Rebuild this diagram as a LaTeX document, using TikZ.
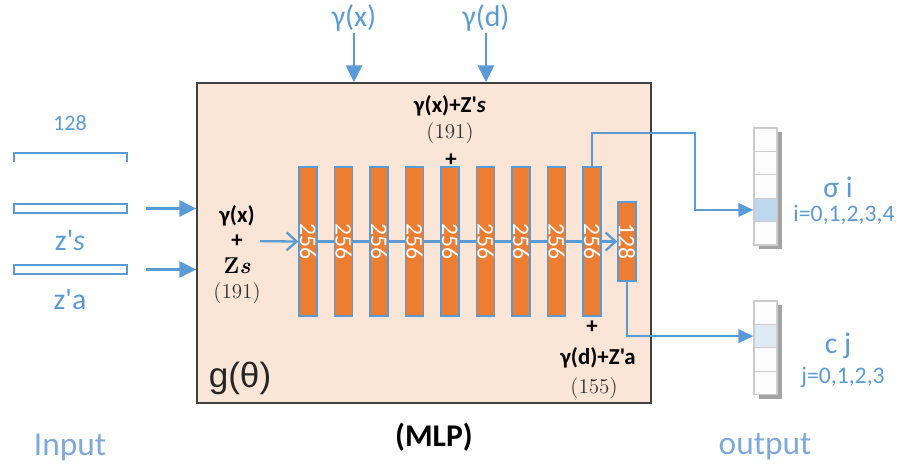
\documentclass[tikz,border=0pt]{standalone}
\usepackage{fontspec}
\newfontfamily\cfont{Carlito}
\newfontfamily\afont{Liberation Sans}
\usetikzlibrary{arrows.meta,positioning,shadows}
\definecolor{lineblue}{HTML}{5B9BD5}
\definecolor{softblue}{HTML}{7FA9DA}
\definecolor{peach}{HTML}{FBE5D6}
\definecolor{barorange}{HTML}{ED7D31}
\definecolor{cellblue}{HTML}{BDD7EE}
\definecolor{celllight}{HTML}{DEEBF7}

\begin{document}
\begin{tikzpicture}[x=0.02cm, y=-0.02cm,
  bar/.style={rectangle, draw=lineblue, line width=0.8pt, fill=barorange, inner sep=0pt,
              minimum width=0.36cm, minimum height=2.98cm, text=white,
              font=\cfont\fontsize{13.5}{13.5}\selectfont},
  inrect/.style={rectangle, draw=lineblue, line width=0.7pt, fill=white, inner sep=0pt,
                 minimum width=2.26cm, minimum height=0.18cm},
  cell/.style={rectangle, draw=black!20, line width=0.7pt, fill=blue!1, inner sep=0pt,
               minimum width=0.46cm, minimum height=0.468cm},
  column/.style={rectangle, fill=white, inner sep=0pt, minimum width=0.46cm,
                 drop shadow={shadow xshift=3pt, shadow yshift=-2pt, fill=black!60, opacity=0.6}},
  bluetext/.style={text=lineblue, font=\cfont\fontsize{17}{19}\selectfont, inner sep=1pt},
  smallblue/.style={text=lineblue, font=\cfont\fontsize{13.5}{15}\selectfont, inner sep=1pt},
  boldlabel/.style={font=\cfont\bfseries\fontsize{13}{15}\selectfont, inner sep=1pt},
  numlabel/.style={font=\fontsize{12}{14}\selectfont, text=black!80, inner sep=1pt},
  bigtext/.style={text=softblue, font=\cfont\fontsize{19}{22}\selectfont},
  feed/.style={draw=lineblue, line width=1.4pt, -{Triangle[length=0.34cm, width=0.32cm]}},
  outfeed/.style={draw=lineblue, line width=1.4pt, -{Triangle[length=0.3cm, width=0.27cm]}},
  flow/.style={draw=lineblue, line width=1.3pt},
]
\useasboundingbox (0,0) rectangle (898,468);

% MLP box
\node[draw=black!75, line width=0.8pt, fill=peach, inner sep=0pt,
      minimum width=9.08cm, minimum height=6.4cm] (mlp) at (424,243) {};
\node[font=\afont\fontsize{20}{22}\selectfont, text=black!85] (gtheta) at (240,378) {g(θ)};
\node[font=\cfont\bfseries\fontsize{18}{20}\selectfont] (mlplabel) at (434,437) {(MLP)};

% positional encodings on top
\node[bluetext] (gx) at (354,18) {γ(x)};
\node[bluetext] (gd) at (486,18) {γ(d)};
\draw[feed] (gx.south) -- (gx.south |- mlp.north);
\draw[feed] (gd.south) -- (gd.south |- mlp.north);

% inputs
\node[smallblue, font=\cfont\fontsize{12.5}{14}\selectfont] (dim) at (70,123) {128};
\draw[lineblue, line width=0.7pt] (14,162) |- (127,153) -- (127,162);
\node[inrect] (zsbox) at (70.5,208.5) {};
\node[bluetext] (zs) at (70,241) {z'\textit{s}};
\node[inrect] (zabox) at (70.5,269.5) {};
\node[bluetext] (za) at (70,300) {z'a};
\node[bigtext] (input) at (70,447) {Input};
\draw[feed, shorten <=0.36cm] (zsbox.east) -- (zsbox.east -| mlp.west);
\draw[feed, shorten <=0.36cm] (zabox.east) -- (zabox.east -| mlp.west);

% layer inputs
\node[boldlabel] (gxin) at (237,216) {γ(x)};
\node[boldlabel] (plusin) at (237,241) {+};
\node[boldlabel, font=\bfseries\fontsize{13}{15}\selectfont] (zsin) at (237,266) {Z\textit{s}};
\node[numlabel] (nin) at (237,293) {(191)};
\node[boldlabel] (skiplabel) at (450,106) {γ(x)+Z'\textit{s}};
\node[numlabel] (nskip) at (450,133) {(191)};
\node[boldlabel] (plusskip) at (451,160) {+};
\node[boldlabel] (plusdir) at (592,327) {+};
\node[boldlabel] (dirlabel) at (598,358) {γ(d)+Z'a};
\node[numlabel] (ndir) at (594,388) {(155)};

% hidden layers
\foreach \i in {1,...,9}
  \node[bar] (bar\i) at ({308+35.5*(\i-1)},241.5) {\rotatebox{-90}{256}};
\node[bar, minimum height=1.58cm] (bar128) at (627,241.5) {\rotatebox{-90}{128}};

\draw[flow, -{Straight Barb[length=0.2cm, width=0.36cm]}, shorten <=0.3cm] (plusin.east) -- (bar1.west);
\foreach \i in {1,...,8} {
  \pgfmathtruncatemacro\j{\i+1}
  \draw[flow] (bar\i.east) -- (bar\j.west);
}
\draw[flow, -{Straight Barb[length=0.2cm, width=0.36cm]}] (bar9.east) -- (bar128.west);

% outputs
\node[column, minimum height=2.34cm] (sigcol) at (765.5,186.5) {};
\foreach \k in {1,...,5}
  \node[cell] (sig\k) at (765.5,{139.7+23.4*(\k-1)}) {};
\node[cell, fill=cellblue] at (sig4) {};
\node[column, minimum height=1.88cm] (ccol) at (765.5,348) {};
\foreach \k in {1,...,4}
  \node[cell] (col\k) at (765.5,{312.7+23.4*(\k-1)}) {};
\node[cell, fill=celllight] at (col2) {};

\coordinate (turn) at (695,133);
\draw[outfeed] (bar9.north) |- (turn) |- (sig4.west);
\draw[outfeed] (bar128.south) |- (col2.west);

\node[bluetext] (sigma) at (838,187) {σ i};
\node[smallblue] (irange) at (844,215) {i=0,1,2,3,4};
\node[bluetext] (color) at (838,346) {c j};
\node[smallblue] (jrange) at (843,377) {j=0,1,2,3};
\node[bigtext] (output) at (765,447) {output};
\end{tikzpicture}
\end{document}
